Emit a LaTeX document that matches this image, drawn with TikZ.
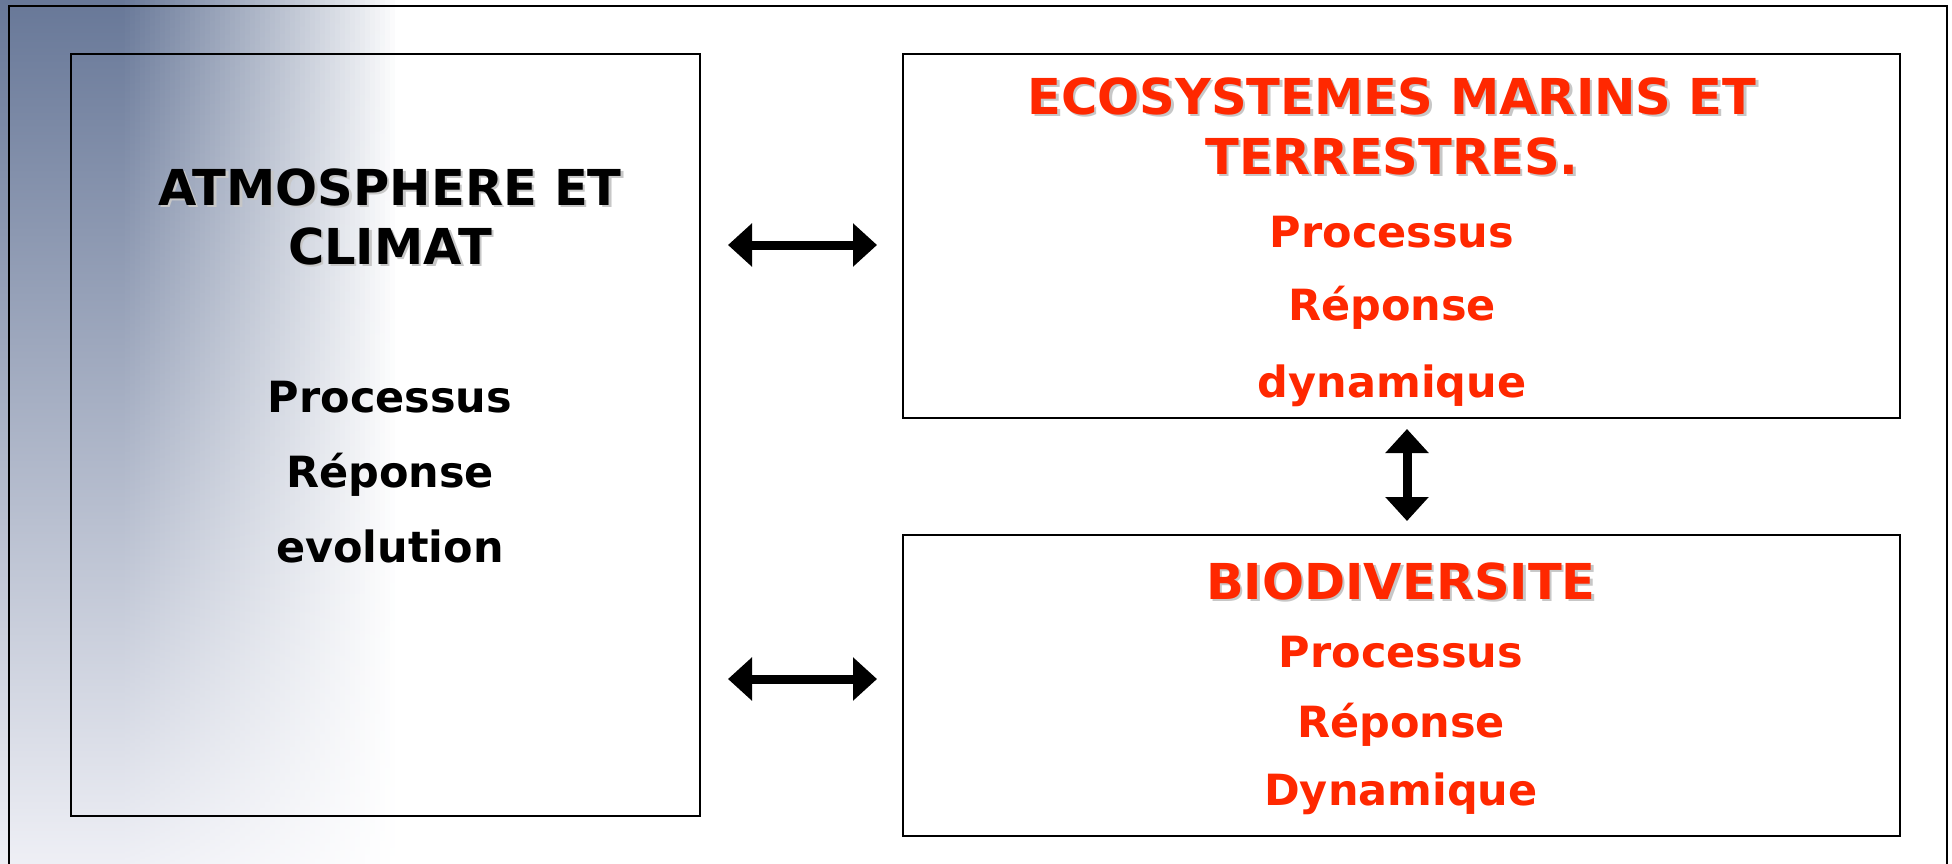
\documentclass[tikz,border=0pt]{standalone}
\usepackage{fontspec}
\setmainfont{DejaVu Sans}
\usetikzlibrary{arrows.meta,calc}
\definecolor{redt}{RGB}{255,40,0}
\definecolor{bgtop}{RGB}{104,120,152}
\definecolor{bgmid}{RGB}{160,168,188}
\definecolor{bgbot}{RGB}{238,239,245}
\newcommand{\shd}[1]{\rlap{\kern2.5pt\raisebox{-2.5pt}{\textcolor{black!22}{#1}}}#1}
\begin{document}
\begin{tikzpicture}[x=1pt,y=-1pt,
  box/.style={draw=black, line width=1.6pt, inner sep=0pt, outer sep=0pt},
  ttl/.style={anchor=base, inner sep=0pt, font=\fontsize{49.5}{59}\selectfont\bfseries},
  bdy/.style={anchor=base, inner sep=0pt, font=\fontsize{43}{50}\selectfont\bfseries},
  dbl/.style={line width=9pt, {Triangle[length=24pt,width=42pt]}-{Triangle[length=24pt,width=42pt]}}]
\useasboundingbox (0,0) rectangle (1952,863);
\clip (0,0) rectangle (1952,863);
\fill[white] (0,0) rectangle (1952,863);
% background gradient: solid part
\fill[top color=bgtop, middle color=bgmid, bottom color=bgbot] (0,0) rectangle (121,863);
% background gradient: fading part in thin strips
\foreach \i in {0,...,55} {
  \pgfmathsetmacro{\p}{100*(1-\i/55)^0.9}
  \fill[top color=bgtop!\p!white, middle color=bgmid!\p!white, bottom color=bgbot!\p!white]
    (120+5*\i,0) rectangle (126+5*\i,863);
}
% outer frame
\draw[line width=1.8pt] (9,6) rectangle (1947,900);
% boxes
\node[box, minimum width=629pt, minimum height=762pt] (left) at (385.5,435) {};
\node[box, minimum width=997pt, minimum height=364pt] (top) at (1401.5,236) {};
\node[box, minimum width=997pt, minimum height=301pt] (bot) at (1401.5,685.5) {};
% left texts
\node[ttl] (l1) at (390,205) {\shd{ATMOSPHERE ET}};
\node[ttl] (l2) at (390,264) {\shd{CLIMAT}};
\node[bdy] (l3) at (390,412) {Processus};
\node[bdy] (l4) at (390,487) {Réponse};
\node[bdy] (l5) at (390,562) {evolution};
% top right texts
\node[ttl, text=redt] (t1) at (1392,114) {\shd{ECOSYSTEMES MARINS ET}};
\node[ttl, text=redt] (t2) at (1392,174) {\shd{TERRESTRES.}};
\node[bdy, text=redt] (t3) at (1392,247) {Processus};
\node[bdy, text=redt] (t4) at (1392,320) {Réponse};
\node[bdy, text=redt] (t5) at (1392,397) {dynamique};
% bottom right texts
\node[ttl, text=redt] (b1) at (1401,599) {\shd{BIODIVERSITE}};
\node[bdy, text=redt] (b2) at (1401,667) {Processus};
\node[bdy, text=redt] (b3) at (1401,737) {Réponse};
\node[bdy, text=redt] (b4) at (1401,805) {Dynamique};
% arrows
\draw[dbl, shorten <=28pt, shorten >=26pt] ($(left.east |- top.west)+(0,9)$) -- ($(top.west)+(0,9)$);
\draw[dbl, shorten <=28pt, shorten >=26pt] ($(left.east |- bot.west)+(0,-6.5)$) -- ($(bot.west)+(0,-6.5)$);
\draw[dbl, shorten <=11pt, shorten >=14pt] ($(top.south)+(5.5,0)$) -- ($(bot.north)+(5.5,0)$);
\end{tikzpicture}
\end{document}
